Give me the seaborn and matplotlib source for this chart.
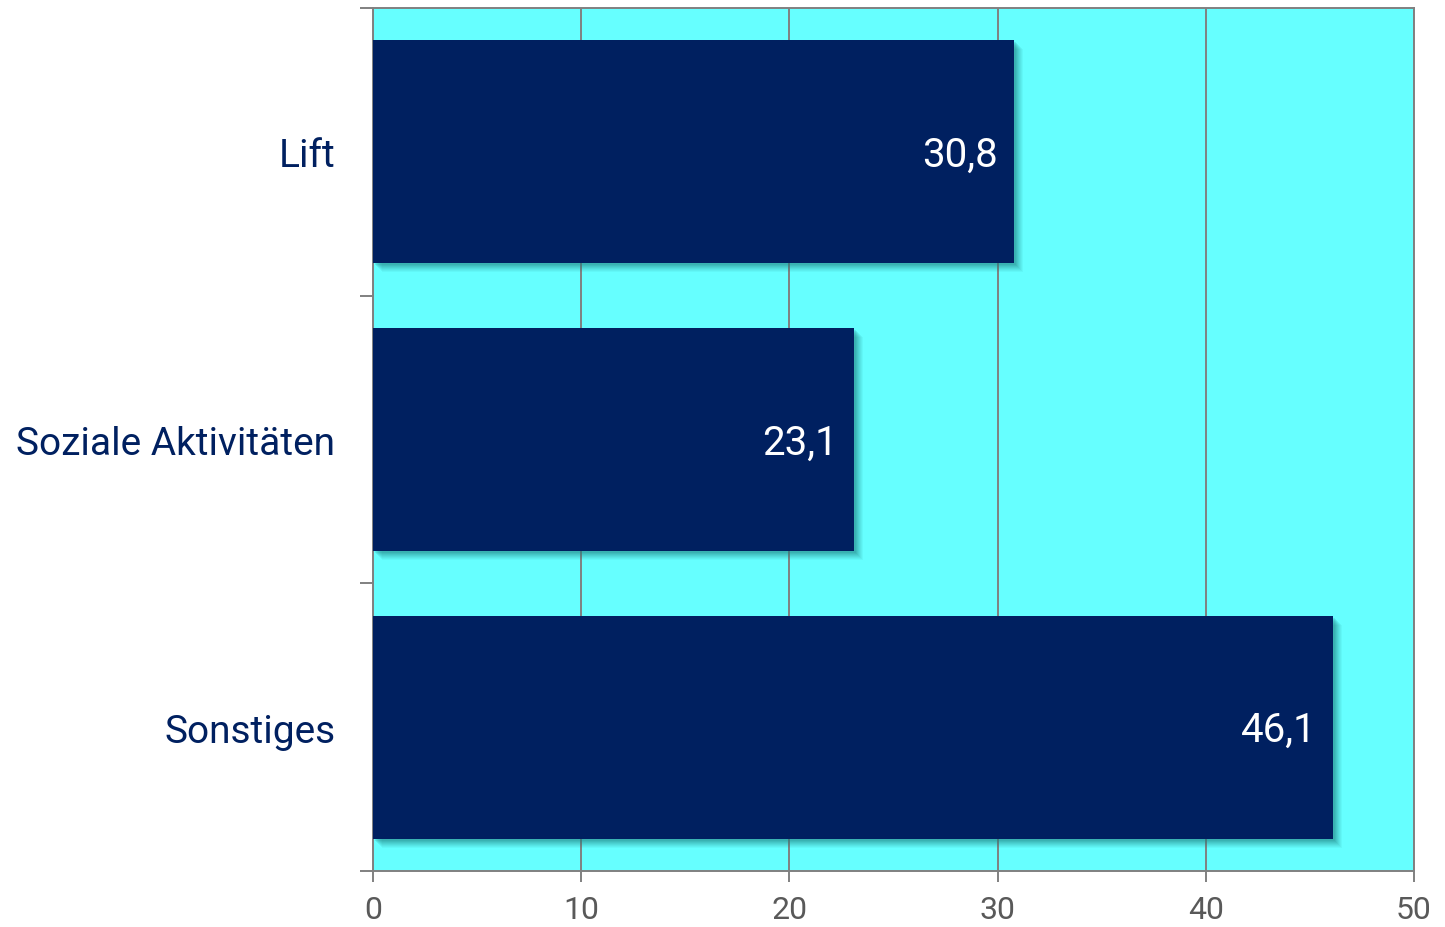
import matplotlib
matplotlib.use("Agg")
import matplotlib.pyplot as plt
import matplotlib.patheffects as pe
import seaborn as sns
import pandas as pd

categories = ["Lift", "Soziale Aktivitäten", "Sonstiges"]
values = [30.8, 23.1, 46.1]
value_labels = ["30,8", "23,1", "46,1"]
x_ticks = [0, 10, 20, 30, 40, 50]

NAVY = "#002060"
CYAN = "#66FFFF"
GRID = "#808080"
TICK_TEXT = "#595959"

sns.set_theme(style="white")
plt.rcParams["font.family"] = ["Roboto", "DejaVu Sans"]

df = pd.DataFrame({"Kategorie": categories, "Wert": values})

fig = plt.figure(figsize=(14.45, 9.28), dpi=100)
ax = fig.add_axes([373 / 1445, 1 - 872 / 928, (1414 - 373) / 1445, (872 - 9) / 928])
ax.set_facecolor(CYAN)

sns.barplot(data=df, x="Wert", y="Kategorie", orient="h", color=NAVY,
            saturation=1, width=0.775, ax=ax, zorder=3)

# soft, diffuse drop shadow under each bar (stacked translucent copies)
shadow = []
for off, a in [(9, 0.06), (8, 0.07), (7, 0.08), (6, 0.09), (5, 0.10),
               (4, 0.12), (3, 0.14), (2, 0.16)]:
    shadow.append(pe.SimplePatchShadow(offset=(off * 0.72, -off * 0.72),
                                       shadow_rgbFace="#1f7f7f", alpha=a))
shadow.append(pe.Normal())
for bar in ax.patches:
    bar.set_edgecolor("none")
    bar.set_path_effects(shadow)

for bar, lab in zip(ax.patches, value_labels):
    ax.text(bar.get_width() - 0.8, bar.get_y() + bar.get_height() / 2 + 0.008, lab,
            ha="right", va="center", color="white", fontsize=29, zorder=5)

ax.set_xlim(0, 50)
ax.set_ylim(2.5, -0.5)
ax.set_xticks(x_ticks)
ax.set_xticklabels([str(t) for t in x_ticks])
ax.xaxis.grid(True, color=GRID, linewidth=1.4, zorder=1)
ax.set_axisbelow(True)

# category boundaries carry the tick marks, labels sit at the bar centres
ax.set_yticks([-0.5, 0.5, 1.5, 2.5])
ax.set_yticklabels([])
ax.set_yticks([0, 1, 2], minor=True)
ax.set_yticklabels(categories, minor=True)
ax.tick_params(axis="y", which="major", left=True, length=9.5, width=1.4, color=GRID)
ax.tick_params(axis="y", which="minor", left=False, length=0, pad=27,
               labelsize=28, labelcolor=NAVY)
ax.tick_params(axis="x", bottom=True, length=8, width=1.4, color=GRID,
               labelsize=23, labelcolor=TICK_TEXT, pad=9)

for side in ["left", "bottom", "top", "right"]:
    ax.spines[side].set_visible(True)
    ax.spines[side].set_color(GRID)
    ax.spines[side].set_linewidth(1.4)

ax.set_xlabel("")
ax.set_ylabel("")

fig.savefig("out.png", dpi=100)
